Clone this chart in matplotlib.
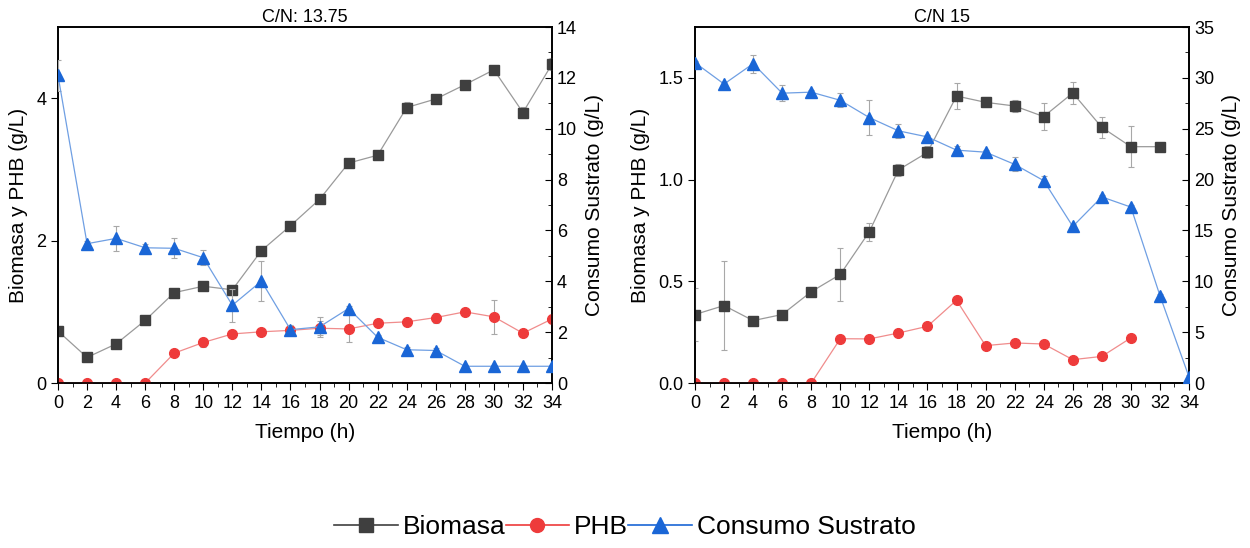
import numpy as np
import matplotlib
matplotlib.use('Agg')
import matplotlib.pyplot as plt
from matplotlib.lines import Line2D
from matplotlib.ticker import MultipleLocator

plt.rcParams['font.family'] = ['Liberation Sans', 'DejaVu Sans']

# tiempo (h)
t = [0, 2, 4, 6, 8, 10, 12, 14, 16, 18, 20, 22, 24, 26, 28, 30, 32, 34]

# C/N 13.75
bio_a = [0.73, 0.36, 0.55, 0.88, 1.27, 1.36, 1.31, 1.86, 2.21, 2.58, 3.09, 3.20, 3.87, 3.99, 4.19, 4.40, 3.80, 4.48]
bio_a_err = [0, 0, 0, 0, 0.04, 0.03, 0.03, 0.04, 0.03, 0.03, 0.03, 0.03, 0.08, 0.03, 0.03, 0.03, 0.08, 0.08]
phb_a = [0, 0, 0, 0, 0.42, 0.57, 0.69, 0.72, 0.74, 0.77, 0.76, 0.84, 0.86, 0.92, 1.00, 0.93, 0.70, 0.90]
phb_a_err = [0, 0, 0, 0, 0.03, 0.06, 0.06, 0.04, 0.06, 0.10, 0.19, 0.03, 0.03, 0.07, 0.03, 0.24, 0.05, 0.05]
sus_a = [12.1, 5.48, 5.69, 5.32, 5.30, 4.93, 3.06, 4.01, 2.10, 2.21, 2.93, 1.80, 1.31, 1.28, 0.66, 0.66, 0.66, 0.66]
sus_a_err = [0.6, 0.1, 0.5, 0.15, 0.4, 0.3, 0.65, 0.8, 0.2, 0.4, 0.1, 0.1, 0.1, 0.1, 0.05, 0.05, 0.05, 0.05]

# C/N 15
t_b = [0, 2, 4, 6, 8, 10, 12, 14, 16, 18, 20, 22, 24, 26, 28, 30, 32]
bio_b = [0.337, 0.381, 0.307, 0.337, 0.449, 0.534, 0.744, 1.048, 1.134, 1.411, 1.380, 1.362, 1.31, 1.426, 1.257, 1.162, 1.162]
bio_b_err = [0.13, 0.22, 0.02, 0.01, 0.01, 0.13, 0.045, 0.03, 0.03, 0.065, 0.025, 0.03, 0.065, 0.055, 0.05, 0.10, 0.0]
t_phb_b = [0, 2, 4, 6, 8, 10, 12, 14, 16, 18, 20, 22, 24, 26, 28, 30]
phb_b = [0, 0, 0, 0, 0, 0.218, 0.217, 0.246, 0.279, 0.407, 0.184, 0.197, 0.192, 0.115, 0.131, 0.222]
sus_b = [31.5, 29.4, 31.4, 28.5, 28.6, 27.8, 26.1, 24.8, 24.2, 22.9, 22.7, 21.5, 19.9, 15.4, 18.3, 17.3, 8.6, 0.6]
sus_b_err = [0.2, 0.2, 0.9, 0.8, 0.2, 0.7, 1.7, 0.7, 0.2, 0.4, 0.2, 0.7, 0.5, 0.2, 0.2, 0.2, 0.2, 0.2]

gray_m, gray_l = '#3f3f3f', '#9a9a9a'
red_m, red_l = '#ee3b3b', '#f08c8c'
blue_m, blue_l = '#1a66d6', '#6f9fe3'


def serie(ax, x, y, err, mk, cm, cl, ms):
    ax.errorbar(x, y, yerr=err, fmt='-', color=cl, lw=0.9, ecolor='#a8a8a8',
                elinewidth=0.8, capsize=2.5, capthick=0.8, marker=mk, ms=ms,
                markerfacecolor=cm, markeredgecolor=cm, zorder=3)


def panel(ax, title, ylim_l, yticks_l, fmt_l, ylim_r, rstep):
    ax.set_xlim(0, 34)
    ax.set_ylim(*ylim_l)
    ax.set_xticks(range(0, 35, 2))
    ax.xaxis.set_minor_locator(MultipleLocator(1))
    ax.set_yticks(yticks_l)
    ax.set_yticklabels([fmt_l.format(v) for v in yticks_l])
    ax.tick_params(axis='x', which='major', direction='out', length=5, labelsize=13)
    ax.tick_params(axis='x', which='minor', direction='out', length=3)
    ax.tick_params(axis='y', direction='out', length=5, labelsize=13)
    ax.set_xlabel('Tiempo (h)', fontsize=15, labelpad=8)
    ax.set_ylabel('Biomasa y PHB (g/L)', fontsize=15, labelpad=6)
    ax.set_title(title, fontsize=13, pad=4)
    for s in ax.spines.values():
        s.set_linewidth(1.2)
    ax2 = ax.twinx()
    ax2.set_ylim(*ylim_r)
    ax2.yaxis.set_major_locator(MultipleLocator(rstep))
    ax2.yaxis.set_minor_locator(MultipleLocator(rstep / 2))
    ax2.tick_params(axis='y', which='major', direction='in', length=5, labelsize=13)
    ax2.tick_params(axis='y', which='minor', direction='in', length=3)
    ax2.set_ylabel('Consumo Sustrato (g/L)', fontsize=15, labelpad=6)
    for s in ax2.spines.values():
        s.set_linewidth(1.2)
    return ax2


fig = plt.figure(figsize=(12.5, 5.48), dpi=100)
ax1 = fig.add_axes([0.0464, 0.301, 0.3952, 0.6496])
ax3 = fig.add_axes([0.556, 0.301, 0.3952, 0.6496])

ax1r = panel(ax1, 'C/N: 13.75', (0, 5), [0, 2, 4], '{:g}', (0, 14), 2)
serie(ax1, t, bio_a, bio_a_err, 's', gray_m, gray_l, 7)
serie(ax1, t, phb_a, phb_a_err, 'o', red_m, red_l, 7)
serie(ax1r, t, sus_a, sus_a_err, '^', blue_m, blue_l, 8)

ax3r = panel(ax3, 'C/N 15', (0, 1.75), [0, 0.5, 1.0, 1.5], '{:.1f}', (0, 35), 5)
serie(ax3, t_b, bio_b, bio_b_err, 's', gray_m, gray_l, 7)
serie(ax3, t_phb_b, phb_b, None, 'o', red_m, red_l, 7)
serie(ax3r, t, sus_b, sus_b_err, '^', blue_m, blue_l, 8)

handles = [
    Line2D([], [], color=gray_m, lw=1.2, marker='s', ms=10),
    Line2D([], [], color=red_m, lw=1.2, marker='o', ms=10),
    Line2D([], [], color=blue_m, lw=1.2, marker='^', ms=11),
]
fig.legend(handles, ['Biomasa', 'PHB', 'Consumo Sustrato'], loc='center',
           bbox_to_anchor=(0.5, 0.038), ncol=3, frameon=False, fontsize=19,
           handlelength=2.4, handletextpad=0.2, columnspacing=0.0)

fig.savefig('out.png', dpi=100)
